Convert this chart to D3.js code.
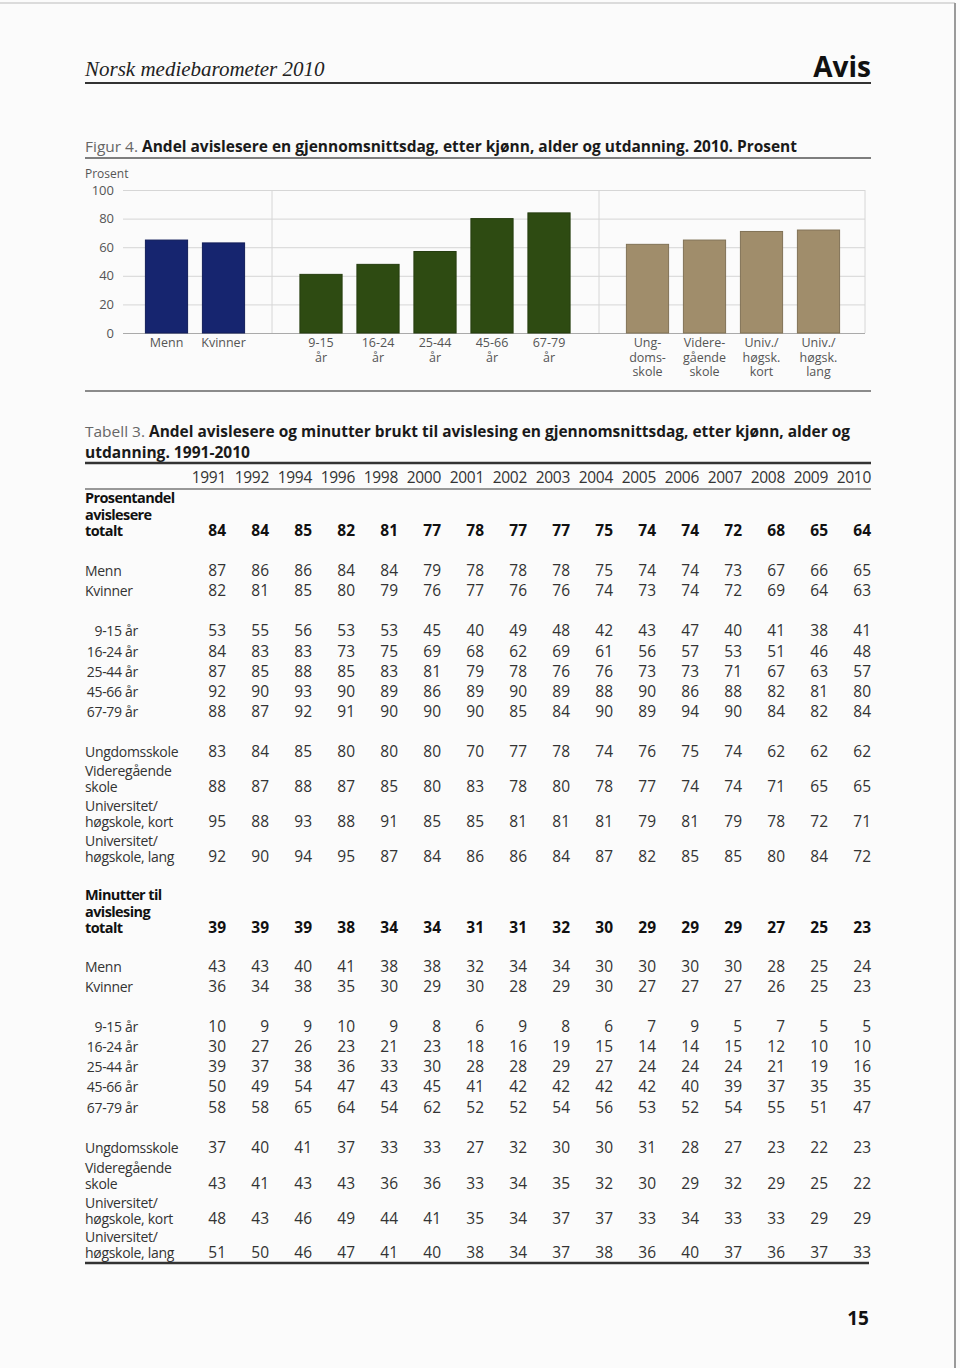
<!DOCTYPE html>
<html>
<head>
<meta charset="utf-8">
<script src="https://cdn.jsdelivr.net/npm/d3@7"></script>
<style>
  body { margin: 0; background: #fff; }
  svg { display: block; }
</style>
</head>
<body>
<div id="chart"></div>
<script>
// Figur 4: andel avislesere 2010
const kjonn = ["Menn", "Kvinner"]
const kjonnAndel = [65, 63]
const alder = ["9-15|år", "16-24|år", "25-44|år", "45-66|år", "67-79|år"]
const alderAndel = [41, 48, 57, 80, 84]
const utdanning = ["Ung-|doms-|skole", "Videre-|gående|skole", "Univ./|høgsk.|kort", "Univ./|høgsk.|lang"]
const utdanningAndel = [62, 65, 71, 72]
const yTicks = [0, 20, 40, 60, 80, 100]

// Tabell 3
const years = [1991, 1992, 1994, 1996, 1998, 2000, 2001, 2002, 2003, 2004, 2005, 2006, 2007, 2008, 2009, 2010]
const andelTotalt = [84, 84, 85, 82, 81, 77, 78, 77, 77, 75, 74, 74, 72, 68, 65, 64]
const andelMenn = [87, 86, 86, 84, 84, 79, 78, 78, 78, 75, 74, 74, 73, 67, 66, 65]
const andelKvinner = [82, 81, 85, 80, 79, 76, 77, 76, 76, 74, 73, 74, 72, 69, 64, 63]
const andel9_15 = [53, 55, 56, 53, 53, 45, 40, 49, 48, 42, 43, 47, 40, 41, 38, 41]
const andel16_24 = [84, 83, 83, 73, 75, 69, 68, 62, 69, 61, 56, 57, 53, 51, 46, 48]
const andel25_44 = [87, 85, 88, 85, 83, 81, 79, 78, 76, 76, 73, 73, 71, 67, 63, 57]
const andel45_66 = [92, 90, 93, 90, 89, 86, 89, 90, 89, 88, 90, 86, 88, 82, 81, 80]
const andel67_79 = [88, 87, 92, 91, 90, 90, 90, 85, 84, 90, 89, 94, 90, 84, 82, 84]
const andelUngdom = [83, 84, 85, 80, 80, 80, 70, 77, 78, 74, 76, 75, 74, 62, 62, 62]
const andelVgs = [88, 87, 88, 87, 85, 80, 83, 78, 80, 78, 77, 74, 74, 71, 65, 65]
const andelUnivKort = [95, 88, 93, 88, 91, 85, 85, 81, 81, 81, 79, 81, 79, 78, 72, 71]
const andelUnivLang = [92, 90, 94, 95, 87, 84, 86, 86, 84, 87, 82, 85, 85, 80, 84, 72]
const minTotalt = [39, 39, 39, 38, 34, 34, 31, 31, 32, 30, 29, 29, 29, 27, 25, 23]
const minMenn = [43, 43, 40, 41, 38, 38, 32, 34, 34, 30, 30, 30, 30, 28, 25, 24]
const minKvinner = [36, 34, 38, 35, 30, 29, 30, 28, 29, 30, 27, 27, 27, 26, 25, 23]
const min9_15 = [10, 9, 9, 10, 9, 8, 6, 9, 8, 6, 7, 9, 5, 7, 5, 5]
const min16_24 = [30, 27, 26, 23, 21, 23, 18, 16, 19, 15, 14, 14, 15, 12, 10, 10]
const min25_44 = [39, 37, 38, 36, 33, 30, 28, 28, 29, 27, 24, 24, 24, 21, 19, 16]
const min45_66 = [50, 49, 54, 47, 43, 45, 41, 42, 42, 42, 42, 40, 39, 37, 35, 35]
const min67_79 = [58, 58, 65, 64, 54, 62, 52, 52, 54, 56, 53, 52, 54, 55, 51, 47]
const minUngdom = [37, 40, 41, 37, 33, 33, 27, 32, 30, 30, 31, 28, 27, 23, 22, 23]
const minVgs = [43, 41, 43, 43, 36, 36, 33, 34, 35, 32, 30, 29, 32, 29, 25, 22]
const minUnivKort = [48, 43, 46, 49, 44, 41, 35, 34, 37, 37, 33, 34, 33, 33, 29, 29]
const minUnivLang = [51, 50, 46, 47, 41, 40, 38, 34, 37, 38, 36, 40, 37, 36, 37, 33]

// ----------------------------------------------------------

const width = 960
const height = 1368
const left = 85, right = 871
const sans = "'Open Sans', 'DejaVu Sans', sans-serif"

const svg = d3.select("div#chart").append("svg")
    .attr("width", width)
    .attr("height", height)

// kant på siden (skannet side)
svg.append("rect").attr("width", width).attr("height", height).attr("fill", "#fbfbfb")
svg.append("line").attr("x1", 0).attr("x2", 955).attr("y1", 3).attr("y2", 3)
    .attr("stroke", "#d0d0d0").attr("stroke-width", 1.5)
svg.append("line").attr("x1", 955).attr("x2", 955).attr("y1", 3).attr("y2", height)
    .attr("stroke", "#9a9a9a").attr("stroke-width", 2)

// Topptekst
svg.append("text").text("Norsk mediebarometer 2010")
    .attr("x", left).attr("y", 76)
    .attr("font-family", "'Liberation Serif', 'DejaVu Serif', serif")
    .attr("font-style", "italic").attr("font-size", 21).attr("fill", "#222")
svg.append("text").text("Avis")
    .attr("x", right).attr("y", 77).attr("text-anchor", "end")
    .attr("font-family", sans).attr("font-weight", "bold").attr("font-size", 28).attr("fill", "#111")
svg.append("line").attr("x1", left).attr("x2", right).attr("y1", 83).attr("y2", 83)
    .attr("stroke", "#333").attr("stroke-width", 2)

// tittel: lys etikett + fet tekst presset til bredden i originalen
function title(label, labelEnd, text, x0, x1, y) {
    svg.append("text").text(label).attr("x", left).attr("y", y)
        .attr("font-family", sans).attr("font-size", 14.5).attr("fill", "#666")
        .attr("textLength", labelEnd - left).attr("lengthAdjust", "spacingAndGlyphs")
    svg.append("text").text(text).attr("x", x0).attr("y", y)
        .attr("font-family", sans).attr("font-size", 16).attr("font-weight", "bold").attr("fill", "#1a1a1a")
        .attr("textLength", x1 - x0).attr("lengthAdjust", "spacingAndGlyphs")
}

title("Figur 4.", 138, "Andel avislesere en gjennomsnittsdag, etter kjønn, alder og utdanning. 2010. Prosent", 142, 797, 152)
svg.append("line").attr("x1", left).attr("x2", right).attr("y1", 158).attr("y2", 158)
    .attr("stroke", "#555").attr("stroke-width", 1.5)

// ---------------- Søylediagram ----------------
const plot = { x0: 123, x1: 865, top: 190, bottom: 333 }
const scaleY = d3.scaleLinear().domain([0, 100]).range([plot.bottom, plot.top])
const chartGroup = svg.append("g").attr("id", "chartGroup")

svg.append("text").text("Prosent").attr("x", left).attr("y", 178)
    .attr("font-family", sans).attr("font-size", 12).attr("fill", "#555")

// y-akse med rutenett
const yAxis = d3.axisLeft(scaleY).tickValues(yTicks).tickSize(-(plot.x1 - plot.x0)).tickPadding(9)
const yAxisGroup = chartGroup.append("g").attr("transform", `translate(${plot.x0} 0)`).call(yAxis)
yAxisGroup.select(".domain").remove()
yAxisGroup.selectAll(".tick line").attr("stroke", d => d === 0 ? "#aaa" : "#d6d6d6")
yAxisGroup.selectAll(".tick text").attr("font-family", sans).attr("font-size", 13).attr("fill", "#555")

// skillelinjer mellom gruppene
const dividers = [272, 599, 865]
chartGroup.selectAll("line.divider").data(dividers).enter().append("line")
    .attr("class", "divider")
    .attr("x1", d => d).attr("x2", d => d)
    .attr("y1", scaleY(100)).attr("y2", scaleY(0))
    .attr("stroke", "#d6d6d6")

const panels = [
    { cats: kjonn, values: kjonnAndel, center: 195, color: "#16256f" },
    { cats: alder, values: alderAndel, center: 435, color: "#2e4b12" },
    { cats: utdanning, values: utdanningAndel, center: 733, color: "#a08d6b" }
]
const step = 57

panels.forEach(p => {
    const scaleX = d3.scaleBand().domain(p.cats)
        .range([p.center - p.cats.length * step / 2, p.center + p.cats.length * step / 2])
        .paddingInner(0.26).paddingOuter(0.13)
    const data = p.cats.map((c, i) => ({ cat: c, value: p.values[i] }))

    chartGroup.append("g").selectAll("rect").data(data).enter().append("rect")
        .attr("x", d => scaleX(d.cat))
        .attr("y", d => scaleY(d.value))
        .attr("width", scaleX.bandwidth())
        .attr("height", d => scaleY(0) - scaleY(d.value))
        .attr("fill", p.color)
        .attr("stroke", d3.color(p.color).darker(0.6))
        .attr("stroke-width", 1)

    // kategorietiketter, en linje per del
    chartGroup.append("g").selectAll("text").data(p.cats).enter().append("text")
        .attr("text-anchor", "middle")
        .attr("font-family", sans).attr("font-size", 12.5).attr("fill", "#555")
        .each(function(d) {
            const cx = scaleX(d) + scaleX.bandwidth() / 2
            d3.select(this).selectAll("tspan").data(d.split("|")).enter().append("tspan")
                .attr("x", cx).attr("y", (l, i) => plot.bottom + 14 + i * 14.5).text(l => l)
        })
})

svg.append("line").attr("x1", left).attr("x2", right).attr("y1", 391).attr("y2", 391)
    .attr("stroke", "#666").attr("stroke-width", 1.5)

// ---------------- Tabell ----------------
title("Tabell 3.", 145, "Andel avislesere og minutter brukt til avislesing en gjennomsnittsdag, etter kjønn, alder og", 149, 850, 437)
svg.append("text").text("utdanning. 1991-2010").attr("x", left).attr("y", 458)
    .attr("font-family", sans).attr("font-size", 16).attr("font-weight", "bold").attr("fill", "#1a1a1a")
    .attr("textLength", 250 - left).attr("lengthAdjust", "spacingAndGlyphs")

svg.append("line").attr("x1", left).attr("x2", right).attr("y1", 463).attr("y2", 463)
    .attr("stroke", "#333").attr("stroke-width", 2.5)
svg.append("line").attr("x1", left).attr("x2", right).attr("y1", 489).attr("y2", 489)
    .attr("stroke", "#777").attr("stroke-width", 1.5)
svg.append("line").attr("x1", left).attr("x2", right - 2).attr("y1", 1263).attr("y2", 1263)
    .attr("stroke", "#333").attr("stroke-width", 2.5)

const colX = d3.scalePoint().domain(years).range([226, 871])
const tableGroup = svg.append("g").attr("id", "tableGroup")
    .attr("font-family", sans).attr("font-size", 15.5).attr("fill", "#333")

tableGroup.append("g").selectAll("text").data(years).enter().append("text")
    .attr("x", d => colX(d)).attr("y", 483).attr("text-anchor", "end")
    .attr("letter-spacing", -0.3)
    .text(d => d)

const rows = [
    { label: ["Prosentandel", "avislesere", "totalt"], values: andelTotalt, y: 531, bold: true },
    { label: ["Menn"], values: andelMenn, y: 571 },
    { label: ["Kvinner"], values: andelKvinner, y: 591 },
    { label: ["9-15 år"], values: andel9_15, y: 631, age: true },
    { label: ["16-24 år"], values: andel16_24, y: 652, age: true },
    { label: ["25-44 år"], values: andel25_44, y: 672, age: true },
    { label: ["45-66 år"], values: andel45_66, y: 692, age: true },
    { label: ["67-79 år"], values: andel67_79, y: 712, age: true },
    { label: ["Ungdomsskole"], values: andelUngdom, y: 752 },
    { label: ["Videregående", "skole"], values: andelVgs, y: 787 },
    { label: ["Universitet/", "høgskole, kort"], values: andelUnivKort, y: 822 },
    { label: ["Universitet/", "høgskole, lang"], values: andelUnivLang, y: 857 },
    { label: ["Minutter til", "avislesing", "totalt"], values: minTotalt, y: 928, bold: true },
    { label: ["Menn"], values: minMenn, y: 967 },
    { label: ["Kvinner"], values: minKvinner, y: 987 },
    { label: ["9-15 år"], values: min9_15, y: 1027, age: true },
    { label: ["16-24 år"], values: min16_24, y: 1047, age: true },
    { label: ["25-44 år"], values: min25_44, y: 1067, age: true },
    { label: ["45-66 år"], values: min45_66, y: 1087, age: true },
    { label: ["67-79 år"], values: min67_79, y: 1108, age: true },
    { label: ["Ungdomsskole"], values: minUngdom, y: 1148 },
    { label: ["Videregående", "skole"], values: minVgs, y: 1184 },
    { label: ["Universitet/", "høgskole, kort"], values: minUnivKort, y: 1219 },
    { label: ["Universitet/", "høgskole, lang"], values: minUnivLang, y: 1253 }
]

rows.forEach(r => {
    const g = tableGroup.append("g").attr("transform", `translate(0 ${r.y + 5})`)
        .attr("font-weight", r.bold ? "bold" : null)
        .attr("fill", r.bold ? "#111" : "#333")
    const n = r.label.length
    g.selectAll("text.lab").data(r.label).enter().append("text")
        .attr("class", "lab")
        .attr("x", r.age ? 138 : left)
        .attr("text-anchor", r.age ? "end" : "start")
        .attr("y", (l, i) => (i - n + 1) * 16.5)
        .attr("font-size", r.bold ? 14.5 : 14)
        .attr("letter-spacing", r.bold ? -0.6 : -0.3)
        .text(l => l)
    g.selectAll("text.val").data(r.values).enter().append("text")
        .attr("class", "val")
        .attr("x", (v, i) => colX(years[i]))
        .attr("text-anchor", "end")
        .text(v => v)
})

// Sidetall
svg.append("text").text("15").attr("x", 858).attr("y", 1325).attr("text-anchor", "middle")
    .attr("font-family", sans).attr("font-weight", "bold").attr("font-size", 19).attr("fill", "#111")
</script>
</body>
</html>
